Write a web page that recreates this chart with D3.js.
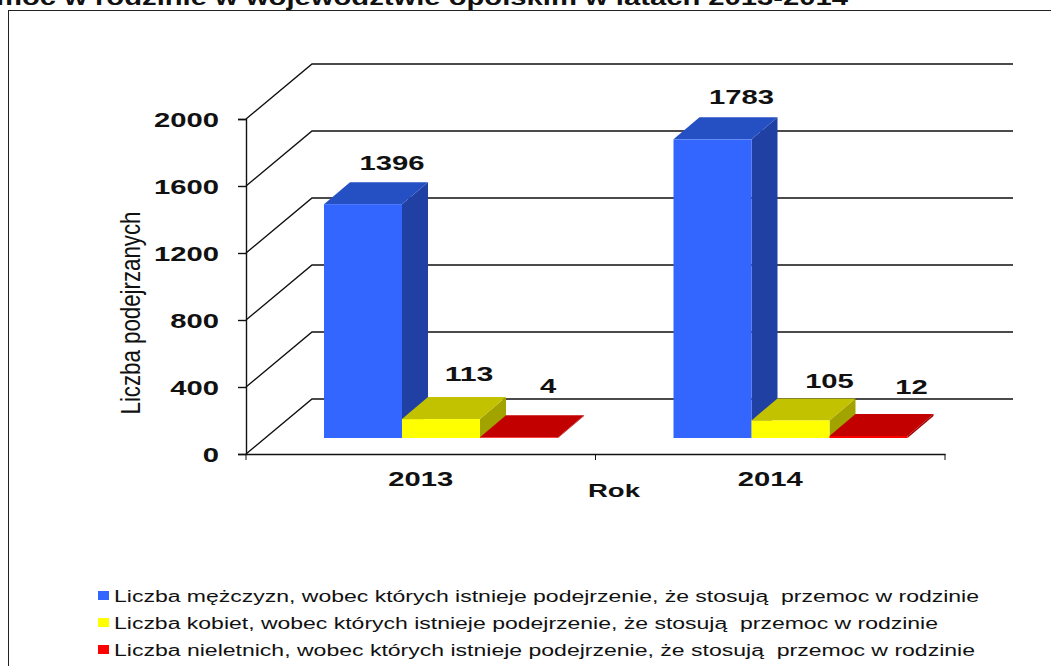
<!DOCTYPE html>
<html>
<head>
<meta charset="utf-8">
<script src="https://cdn.jsdelivr.net/npm/d3@7"></script>
<style>
html, body { margin: 0; padding: 0; background: #fff; overflow: hidden; }
text { font-family: "Liberation Sans", Arial, sans-serif; fill: #111; }
</style>
</head>
<body>
<div id="chart"></div>
<script>
const width = 1051;
const height = 666;

const years = ["2013", "2014"];
const seriesNames = ["men", "women", "minors"];
const men = [1396, 1783];
const women = [113, 105];
const minors = [4, 12];
const yTicks = [0, 400, 800, 1200, 1600, 2000];
const legendLabels = [
	"Liczba mężczyzn, wobec których istnieje podejrzenie, że stosują  przemoc w rodzinie",
	"Liczba kobiet, wobec których istnieje podejrzenie, że stosują  przemoc w rodzinie",
	"Liczba nieletnich, wobec których istnieje podejrzenie, że stosują  przemoc w rodzinie"
];
const frontColors = ["#3366ff", "#ffff00", "#ff0000"];
const topColors = ["#2450c4", "#c2c200", "#c20000"];
const sideColors = ["#2040a4", "#a3a300", "#a30000"];

const values = [men, women, minors];

// value labels in the original are hand placed, [dx, dy] per series and year
const labelNudge = [
	[[-1, 7], [-1, 6]],
	[[-2, 3], [9, 9]],
	[[-1, -3], [13, -1]]
];

// depth of the chart floor and of the bars
const wallDx = 66, wallDy = -55;
const barDx = 26, barDy = -22;
const floorOffset = 16;
const digitWidth = 16.25;

const svg = d3.select("#chart")
	.append("svg")
	.attr("width", width)
	.attr("height", height);

const x = d3.scaleBand().domain(years).range([246, 945]);
const inner = d3.scaleBand().domain(seriesNames).range([78, 312]);
const y = d3.scaleLinear().domain([0, 2000]).range([454, 119]);

// stretched text, the original picture is wider than it should be
function label(px, py, str, size, w, anchor) {
	return svg.append("text")
		.attr("x", px)
		.attr("y", py)
		.attr("text-anchor", anchor || "middle")
		.attr("font-size", size)
		.attr("font-weight", "bold")
		.attr("textLength", w)
		.attr("lengthAdjust", "spacingAndGlyphs")
		.text(str);
}

// title, cut off by the top of the picture
label(422, 5, "moc w rodzinie w województwie opolskim w latach 2013-2014", 22, 852);

svg.append("rect")
	.attr("x", 8.5)
	.attr("y", 10.5)
	.attr("width", 1060)
	.attr("height", 670)
	.attr("fill", "none")
	.attr("stroke", "#222")
	.attr("stroke-width", 1);

// wall lines
const grid = svg.append("g").attr("fill", "none").attr("stroke", "#111").attr("stroke-width", 1.4);
grid.selectAll("path")
	.data(yTicks)
	.enter()
	.append("path")
	.attr("d", (d) => `M${x.range()[0]},${y(d)}l${wallDx},${wallDy}L1013,${y(d) + wallDy}`);

// axes
const yAxis = svg.append("g")
	.attr("transform", `translate(${x.range()[0]},0)`)
	.call(d3.axisLeft(y).tickValues(yTicks).tickSize(8).tickFormat(""));
const xAxis = svg.append("g")
	.attr("transform", `translate(0,${y(0)})`)
	.call(d3.axisBottom(x).tickValues([]).tickSize(0));
xAxis.selectAll(".boundary")
	.data([x.range()[0], x.range()[0] + x.bandwidth(), x.range()[1]])
	.enter()
	.append("line")
	.attr("x1", (d) => d)
	.attr("x2", (d) => d)
	.attr("y2", 6)
	.attr("stroke", "#111");
svg.selectAll(".domain, .tick line").attr("stroke", "#111").attr("stroke-width", 1.4);

yTicks.forEach((t) => label(219, y(t) + 7.5, t, 21, String(t).length * digitWidth, "end"));
years.forEach((yr) => label(x(yr) + x.bandwidth() / 2, 486, yr, 21, 65));
label(614, 497, "Rok", 19, 52);

svg.append("text")
	.attr("transform", "translate(140,313) rotate(-90)")
	.attr("text-anchor", "middle")
	.attr("font-size", 28)
	.attr("textLength", 203)
	.attr("lengthAdjust", "spacingAndGlyphs")
	.text("Liczba podejrzanych");

// bars, drawn left to right so each one covers the side of the next
const base = y(0) - floorOffset;
const h = (v) => y(0) - y(v);
seriesNames.forEach((name, i) => {
	years.forEach((yr, j) => {
		const x0 = x(yr) + inner(name);
		const w = inner.bandwidth();
		const top = base - h(values[i][j]);
		const g = svg.append("g");
		g.append("path")
			.attr("fill", sideColors[i])
			.attr("d", `M${x0 + w},${top}l${barDx},${barDy}V${base + barDy}l${-barDx},${-barDy}Z`);
		g.append("path")
			.attr("fill", topColors[i])
			.attr("d", `M${x0},${top}l${barDx},${barDy}h${w}l${-barDx},${-barDy}Z`);
		g.append("rect")
			.attr("x", x0)
			.attr("y", top)
			.attr("width", w)
			.attr("height", h(values[i][j]))
			.attr("fill", frontColors[i]);
		const nudge = labelNudge[i][j];
		label(x0 + w / 2 + 30 + nudge[0], top + barDy - 19 + nudge[1], values[i][j], 21, String(values[i][j]).length * digitWidth);
	});
});

// legend
legendLabels.forEach((t, i) => {
	const ly = 596 + i * 27;
	svg.append("rect")
		.attr("x", 98)
		.attr("y", ly - 5)
		.attr("width", 11)
		.attr("height", 9)
		.attr("fill", frontColors[i]);
	svg.append("text")
		.attr("x", 114)
		.attr("y", ly + 6)
		.attr("font-size", 16)
		.attr("textLength", [865, 824, 861][i])
		.attr("lengthAdjust", "spacingAndGlyphs")
		.style("white-space", "pre")
		.text(t);
});
</script>
</body>
</html>
